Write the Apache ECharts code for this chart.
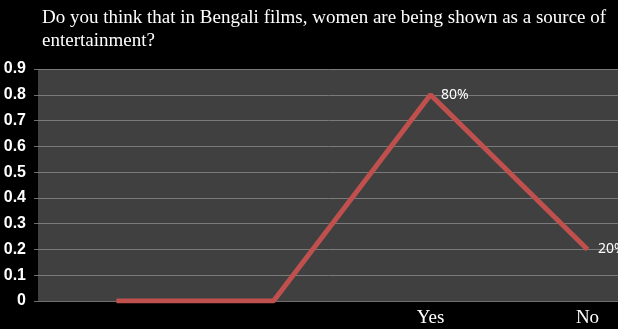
<!DOCTYPE html>
<html>
<head>
<meta charset="utf-8">
<style>
  html, body { margin: 0; padding: 0; background: #000; }
  #chart { width: 618px; height: 329px; }
</style>
<script src="https://cdn.jsdelivr.net/npm/echarts@6/dist/echarts.min.js"></script>
</head>
<body>
<div id="chart"></div>
<script>
// Survey responses: share answering each option
const categories = ['', '', 'Yes', 'No'];
const shares = [0, 0, 0.8, 0.2];
const yTicks = { min: 0, max: 0.9, step: 0.1 };

const titleText = 'Do you think that in Bengali films, women are being shown as a source of\nentertainment?';

const chart = echarts.init(document.getElementById('chart'));

chart.setOption({
  backgroundColor: '#000000',
  animation: false,
  title: {
    text: titleText,
    left: 37,
    top: 2,
    textStyle: {
      color: '#ffffff',
      fontFamily: 'Liberation Serif',
      fontSize: 19,
      fontWeight: 'normal',
      lineHeight: 23
    }
  },
  grid: {
    left: 38,
    top: 69,
    width: 628,
    bottom: 28,
    outerBoundsMode: 'none',
    show: true,
    backgroundColor: '#404040',
    borderWidth: 0
  },
  xAxis: {
    type: 'category',
    data: categories,
    boundaryGap: true,
    axisLine: { show: true, lineStyle: { color: '#6e6e6e', width: 1 } },
    axisTick: { show: false },
    axisLabel: {
      color: '#ffffff',
      fontFamily: 'Liberation Serif',
      fontSize: 19,
      margin: 8
    },
    splitLine: { show: false }
  },
  yAxis: {
    type: 'value',
    min: yTicks.min,
    max: yTicks.max,
    interval: yTicks.step,
    axisLine: { show: false },
    axisTick: { show: true, length: 4, lineStyle: { color: '#6e6e6e' } },
    axisLabel: {
      color: '#ffffff',
      fontFamily: 'Liberation Sans',
      fontSize: 16,
      fontWeight: 'bold',
      margin: 12,
      formatter: v => (v === 0 ? '0' : v.toFixed(1))
    },
    splitLine: { show: true, lineStyle: { color: '#7a7a7a', width: 1 } }
  },
  series: [{
    type: 'line',
    data: shares,
    symbol: 'circle',
    symbolSize: 1,
    showSymbol: true,
    itemStyle: { color: '#c0504d' },
    lineStyle: { color: '#c0504d', width: 5 },
    label: {
      show: true,
      position: 'right',
      distance: 10,
      color: '#ffffff',
      fontFamily: 'Noto Sans',
      fontSize: 14,
      formatter: p => (categories[p.dataIndex] ? Math.round(p.value * 100) + '%' : '')
    }
  }]
});
</script>
</body>
</html>
